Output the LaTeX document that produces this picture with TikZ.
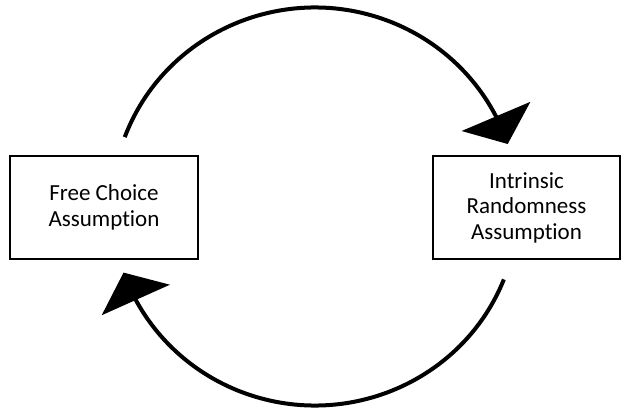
\documentclass[tikz,border=0pt]{standalone}
\usepackage{fontspec}
\setmainfont{Carlito}[Ligatures={NoCommon}]
\usetikzlibrary{arrows.meta,bending}
\tikzset{
  box/.style={draw=black, line width=2pt, fill=white, align=center, inner sep=0pt,
    font=\fontsize{23}{25.5}\selectfont},
  cycle arrow/.style={line width=4pt, -{Triangle[length=30pt, width=74pt, flex]}}
}
\begin{document}
\begin{tikzpicture}[x=1pt, y=-1pt]
  \useasboundingbox (0,0) rectangle (627,417);
  \node[box, minimum width=188pt, minimum height=103pt] (free) at (104,207.5) {Free Choice\\Assumption};
  \node[box, minimum width=187pt, minimum height=103pt] (intr) at (526.5,207.5) {Intrinsic\\Randomness\\Assumption};
  \coordinate (c) at (315,206.5);
  \draw[cycle arrow] (c) ++(-159.6:203 and 199) arc[start angle=-159.6, end angle=-18.3, x radius=203, y radius=199];
  \draw[cycle arrow] (c) ++(21.5:203 and 199) arc[start angle=21.5, end angle=160.6, x radius=203, y radius=199];
\end{tikzpicture}
\end{document}
